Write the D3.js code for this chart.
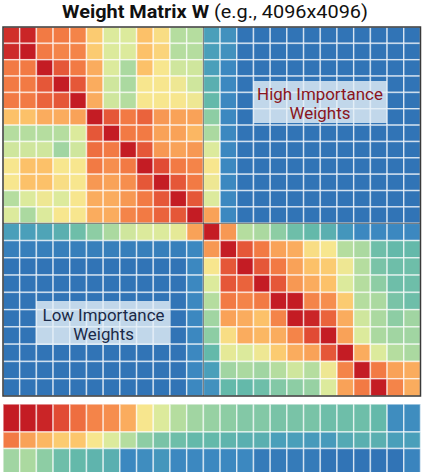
<!DOCTYPE html>
<html><head><meta charset="utf-8">
<script src="https://cdn.jsdelivr.net/npm/d3@7"></script>
<style>html,body{margin:0;padding:0;background:#fff;} svg{display:block;}</style>
</head><body>
<script>
// ---- data: importance values (0 = low / blue, 100 = high / red) ----
const B = 3;
const r00 = [96,98,82,82,80,66,54,54,68,62,48,48, 22,16, B,B,B,B,B,B,B,B,B,B,B];
const r01 = [97,100,82,80,80,66,54,54,68,64,48,48, 22,16, B,B,B,B,B,B,B,B,B,B,B];
const r02 = [82,82,100,88,82,72,54,46,68,60,52,52, 22,12, B,B,B,B,B,B,B,B,B,B,B];
const r03 = [82,82,88,100,88,72,52,46,60,60,58,52, 28,12, B,B,B,B,B,B,B,B,B,B,B];
const r04 = [82,82,86,88,100,72,52,48,60,60,60,58, 32,12, B,B,B,B,B,B,B,B,B,B,B];
const r05 = [68,68,72,72,74,100,88,82,86,76,74,74, 40,12, B,B,B,B,B,B,B,B,B,B,B];
const r06 = [48,48,48,48,54,88,100,82,82,74,74,70, 46,12, B,B,B,B,B,B,B,B,B,B,B];
const r07 = [52,52,52,44,52,84,82,100,88,76,74,76, 54,12, B,B,B,B,B,B,B,B,B,B,B];
const r08 = [60,68,68,60,60,82,78,82,100,90,82,80, 60,12, B,B,B,B,B,B,B,B,B,B,B];
const r09 = [60,68,68,62,60,76,74,78,88,100,88,82, 58,12, B,B,B,B,B,B,B,B,B,B,B];
const r10 = [48,54,58,54,60,72,72,76,82,88,100,88, 54,12, B,B,B,B,B,B,B,B,B,B,B];
const r11 = [54,46,54,60,60,72,72,80,82,86,88,100, 74,12, B,B,B,B,B,B,B,B,B,B,B];
const r12 = [22,22,24,28,34,40,46,52,54,54,56,74, 100,76,48,46,40,34,32,28,18,12,12,12,12];
const r13 = [8,8,8,8,8,8,8,8,8,8,8,12, 76,100,88,82,74,72,62,60,48,46,34,32,32];
const r14 = [B,B,B,B,B,B,B,B,B,B,B,12, 60,88,100,88,82,74,68,66,58,48,36,34,34];
const r15 = [B,B,B,B,B,B,B,B,B,B,B,12, 54,88,86,100,88,76,72,68,54,48,40,34,34];
const r16 = [B,B,B,B,B,B,B,B,B,B,B,12, 48,82,80,82,100,100,80,78,66,48,46,36,34];
const r17 = [B,B,B,B,B,B,B,B,B,B,B,12, 44,74,72,68,80,100,98,86,72,52,46,40,44];
const r18 = [B,B,B,B,B,B,B,B,B,B,B,12, 40,62,72,70,72,80,90,100,74,54,46,44,44];
const r19 = [B,B,B,B,B,B,B,B,B,B,B,12, 32,56,54,58,66,72,74,88,100,72,54,48,46];
const r20 = [B,B,B,B,B,B,B,B,B,B,B,12, 22,44,46,44,48,52,48,58,80,100,82,74,72];
const r21 = [B,B,B,B,B,B,B,B,B,B,B,12, 16,32,32,34,38,40,42,54,74,82,100,80,72];
const matrixRows = [r00,r01,r02,r03,r04,r05,r06,r07,r08,r09,r10,r11,r12,r13,r14,r15,r16,r17,r18,r19,r20,r21];

// bottom summary strip (3 rows)
const stripA = [100,100,98,90,84,80,78,72,60,54,48,44,42,40,38,38,36,36,36,34,34,34,32,14,14];
const stripB = [82,74,70,66,67,60,54,48,40,36,34,32,32,30,28,28,22,22,20,20,26,28,28,22,22];
const stripC = [44,46,40,34,32,30,28,12,14,18,12,12,12,12,12,6,6,6,6,3,3,3,3,3,10];
const stripRows = [stripA, stripB, stripC];

// colour ramp
const rampValues = [0,12,22,32,40,48,54,60,67,74,82,90,100];
const rampColors = ["#2d6db2","#3c88c0","#4a9fba","#64b9aa","#8dcda4","#b5dd9f","#dcea9c","#f7e68e","#fcc66c","#f9a258","#f27a44","#e14b34","#c41c24"];

const titleBold = "Weight Matrix W";
const titleRest = " (e.g., 4096x4096)";
const highLabel = ["High Importance", "Weights"];
const lowLabel = ["Low Importance", "Weights"];

// ---- drawing ----
const W = 423, H = 472;
const svg = d3.select("body").append("svg").attr("width", W).attr("height", H);

const nCols = matrixRows[0].length, nRows = matrixRows.length;
const color = d3.scaleLinear().domain(rampValues).range(rampColors).interpolate(d3.interpolateRgb).clamp(true);
const x = d3.scaleLinear().domain([0, nCols]).range([3, 420.5]);
const y = d3.scaleLinear().domain([0, 12, nRows]).range([27, 223.3, 396]);
const ys = d3.scaleLinear().domain([0, 1, 2, 3]).range([404, 432, 448.5, 474]);

// title
const title = svg.append("text").attr("text-anchor", "middle")
  .attr("font-family", "Roboto, 'Liberation Sans', sans-serif").attr("font-size", 19).attr("fill", "#111");
title.append("tspan").attr("font-weight", "bold").text(titleBold);
title.append("tspan").attr("font-weight", "normal").text(titleRest);
{
  const len = title.node().getComputedTextLength();
  const s = 306 / len;
  title.attr("transform", `translate(215,17.5) scale(${s},1)`);
}

// matrix cells
const cells = [];
matrixRows.forEach((row, r) => row.forEach((v, c) => cells.push({r, c, v})));
const gM = svg.append("g");
gM.selectAll("rect").data(cells).join("rect")
  .attr("x", d => x(d.c)).attr("y", d => y(d.r))
  .attr("width", d => x(d.c + 1) - x(d.c)).attr("height", d => y(d.r + 1) - y(d.r))
  .attr("fill", d => color(d.v))
  .attr("stroke", "rgba(255,255,255,0.62)").attr("stroke-width", 1.5);

// block separators
svg.append("line").attr("x1", x(12)).attr("x2", x(12)).attr("y1", y(0)).attr("y2", y(nRows))
  .attr("stroke", "#333").attr("stroke-opacity", 0.55).attr("stroke-width", 1.2);
svg.append("line").attr("x1", x(0)).attr("x2", x(nCols)).attr("y1", y(12)).attr("y2", y(12))
  .attr("stroke", "#333").attr("stroke-opacity", 0.55).attr("stroke-width", 1.2);

// outer border
svg.append("rect").attr("x", x(0)).attr("y", y(0)).attr("width", x(nCols) - x(0)).attr("height", y(nRows) - y(0))
  .attr("fill", "none").attr("stroke", "#3a3a3a").attr("stroke-width", 1.5);

// strip
const sCells = [];
stripRows.forEach((row, r) => row.forEach((v, c) => sCells.push({r, c, v})));
svg.append("g").selectAll("rect").data(sCells).join("rect")
  .attr("x", d => x(d.c)).attr("y", d => ys(d.r))
  .attr("width", d => x(d.c + 1) - x(d.c)).attr("height", d => ys(d.r + 1) - ys(d.r))
  .attr("fill", d => color(d.v))
  .attr("stroke", "rgba(255,255,255,0.62)").attr("stroke-width", 1.5);

// label boxes
function labelBox(x0, y0, w, h, lines, col, cx, baselines, targetW) {
  svg.append("rect").attr("x", x0).attr("y", y0).attr("width", w).attr("height", h)
    .attr("fill", "#e6f0f7").attr("fill-opacity", 0.8);
  lines.forEach((t, i) => {
    const tx = svg.append("text").attr("text-anchor", "middle")
      .attr("font-family", "Roboto, 'Liberation Sans', sans-serif").attr("font-size", 17)
      .attr("fill", col).text(t);
    const len = tx.node().getComputedTextLength();
    const s = i === 0 ? targetW / len : (targetW / (tx0len || len));
    if (i === 0) tx0len = len;
    tx.attr("transform", `translate(${cx},${baselines[i]}) scale(${s},1)`);
  });
}
let tx0len = 0;
labelBox(253, 81, 134, 42, highLabel, "#8a1420", 320, [99.5, 118.5], 126);
tx0len = 0;
labelBox(36, 301, 133, 44, lowLabel, "#1b2a48", 103.5, [320.5, 339.5], 122);
</script>
</body></html>
